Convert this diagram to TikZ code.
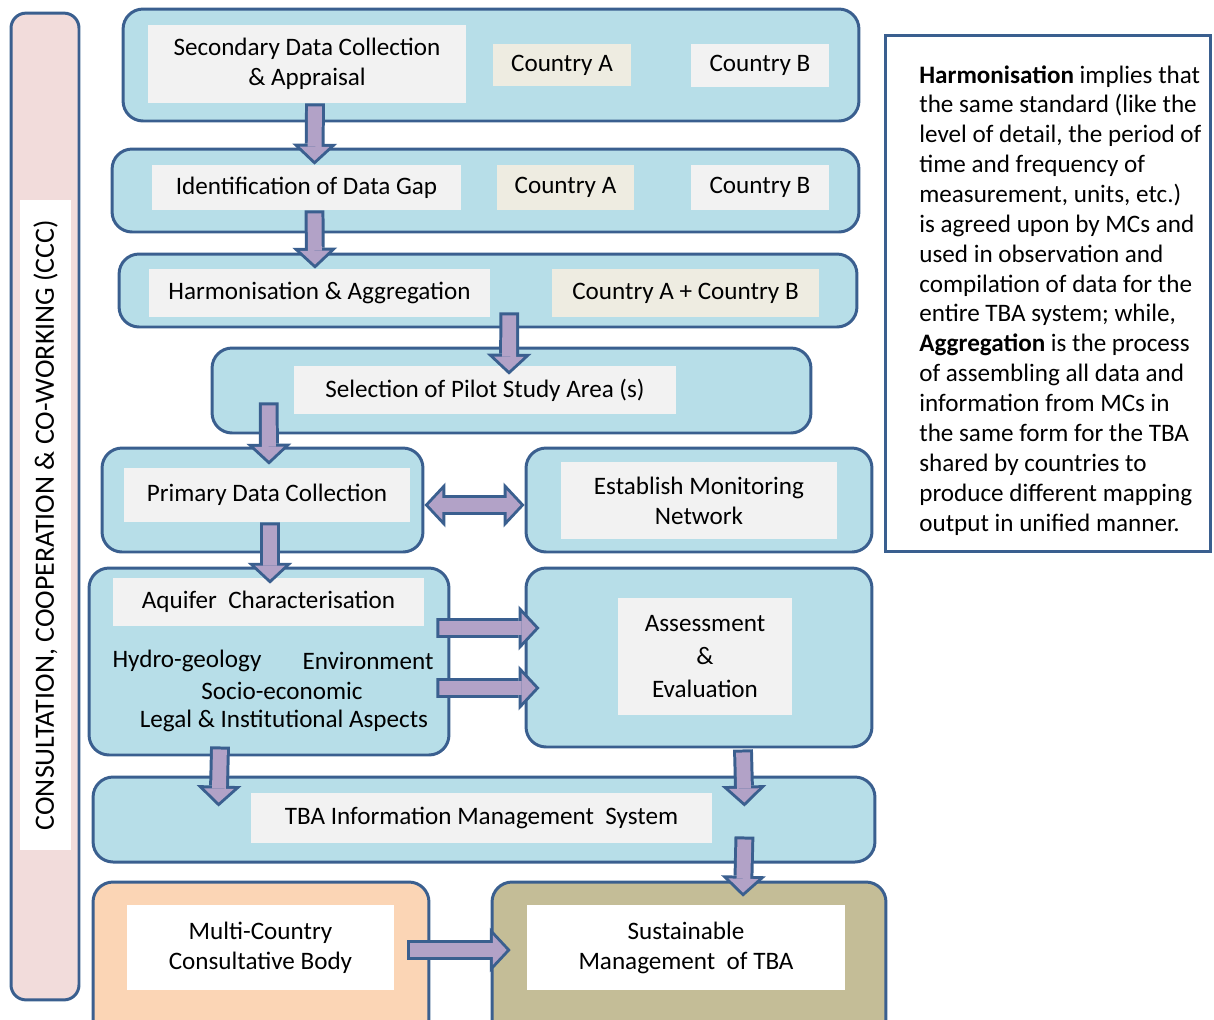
\documentclass[tikz,border=0pt]{standalone}
\usepackage{fontspec}
\setmainfont{Carlito}
\usetikzlibrary{arrows.meta}

\definecolor{edge}{HTML}{3A5F8F}
\definecolor{boxblue}{HTML}{B7DEE8}
\definecolor{textgray}{HTML}{F2F2F2}
\definecolor{tan}{HTML}{EEECE1}
\definecolor{cccpink}{HTML}{F2DCDB}
\definecolor{arrfill}{HTML}{B2A2C7}
\definecolor{peach}{HTML}{FBD5B5}
\definecolor{olive}{HTML}{C4BD97}

\tikzset{
  stage/.style={draw=edge, line width=1.7pt, rounded corners=0.4cm, fill=boxblue, inner sep=0pt},
  txt/.style={fill=textgray, inner sep=0pt, align=center, font=\fontsize{14.3}{17}\selectfont},
  bare/.style={inner sep=0pt, font=\fontsize{14.3}{17}\selectfont},
  blockarr/.style={draw=edge, line width=11.3pt,
    -{Triangle[length=11.9pt, width=25.5pt, line width=0pt]},
    postaction={draw=arrfill, line width=7.9pt, shorten <=1.7pt, shorten >=2.3pt,
      -{Triangle[length=7.9pt, width=16.9pt, line width=0pt]}}},
  dblockarr/.style={draw=edge, line width=11.3pt,
    {Triangle[length=11.9pt, width=25.5pt, line width=0pt]}-{Triangle[length=11.9pt, width=25.5pt, line width=0pt]},
    postaction={draw=arrfill, line width=7.9pt, shorten <=2.3pt, shorten >=2.3pt,
      {Triangle[length=7.9pt, width=16.9pt, line width=0pt]}-{Triangle[length=7.9pt, width=16.9pt, line width=0pt]}}}
}

\begin{document}
\begin{tikzpicture}[x=0.02cm, y=-0.02cm]
  \useasboundingbox (0,0) rectangle (1214,1019);

  \node[stage, fill=cccpink, rounded corners=0.3cm, minimum width=1.36cm, minimum height=19.74cm] (ccc) at (45,506.5) {};
  \node[txt, fill=white, rotate=90, minimum width=13cm, minimum height=1.02cm, font=\fontsize{15.9}{18}\selectfont] (ccctext) at (45.5,525) {CONSULTATION, COOPERATION \& CO-WORKING (CCC)};

  \node[stage, minimum width=14.72cm, minimum height=2.24cm] (s1) at (491,65) {};
  \node[txt, minimum width=6.36cm, minimum height=1.56cm] (sec) at (307,64) {Secondary Data Collection\\ \& Appraisal};
  \node[txt, fill=tan, minimum width=2.76cm, minimum height=0.84cm] (ca1) at (562,65) {Country A};
  \node[txt, minimum width=2.76cm, minimum height=0.86cm] (cb1) at (760,65.5) {Country B};

  \node[stage, minimum width=14.94cm, minimum height=1.66cm] (s2) at (485.5,190.5) {};
  \node[txt, minimum width=6.18cm, minimum height=0.9cm] (gap) at (306.5,187.5) {Identification of Data Gap};
  \node[txt, fill=tan, minimum width=2.74cm, minimum height=0.9cm] (ca2) at (565.5,187.5) {Country A};
  \node[txt, minimum width=2.76cm, minimum height=0.9cm] (cb2) at (760,187.5) {Country B};

  \node[stage, minimum width=14.76cm, minimum height=1.46cm] (s3) at (488,290.5) {};
  \node[txt, minimum width=6.82cm, minimum height=0.96cm] (harm) at (319.5,293) {Harmonisation \& Aggregation};
  \node[txt, fill=tan, minimum width=5.34cm, minimum height=0.96cm] (cab) at (685.5,293) {Country A + Country B};

  \node[stage, minimum width=11.98cm, minimum height=1.7cm] (s4) at (511.5,390.5) {};
  \node[txt, minimum width=7.64cm, minimum height=0.96cm] (pilot) at (485,390) {Selection of Pilot Study Area (s)};

  \node[stage, minimum width=6.42cm, minimum height=2.08cm] (s5) at (262.5,500) {};
  \node[txt, minimum width=5.72cm, minimum height=1.08cm] (prim) at (267,495) {Primary Data Collection};
  \node[stage, minimum width=6.92cm, minimum height=2.08cm] (s5r) at (699,500) {};
  \node[txt, minimum width=5.52cm, minimum height=1.54cm] (mon) at (699,500.5) {Establish Monitoring\\ Network};

  \node[stage, minimum width=7.2cm, minimum height=3.74cm] (s6) at (269,661.5) {};
  \node[txt, minimum width=6.22cm, minimum height=0.96cm] (aqu) at (268.5,602) {Aquifer~ Characterisation};
  \node[bare] (hydro) at (187,661) {Hydro-geology};
  \node[bare] (env) at (368,661) {Environment};
  \node[bare] (socio) at (282,691) {Socio-economic};
  \node[bare] (legal) at (284,721) {Legal \& Institutional Aspects};
  \node[stage, minimum width=6.92cm, minimum height=3.58cm] (s6r) at (699,657.5) {};
  \node[txt, minimum width=3.48cm, minimum height=2.34cm] (ass) at (705,656.5) {Assessment\\[1.7pt] \&\\[1.7pt] Evaluation};

  \node[stage, minimum width=15.64cm, minimum height=1.7cm] (s7) at (484,819.5) {};
  \node[txt, minimum width=9.22cm, minimum height=1cm] (tims) at (481.5,818) {TBA Information Management~ System};

  \node[stage, fill=peach, minimum width=6.72cm, minimum height=3.16cm] (s8) at (261,961) {};
  \node[txt, fill=white, minimum width=5.34cm, minimum height=1.7cm] (mcb) at (260.5,947.5) {Multi-Country\\ Consultative Body};
  \node[stage, fill=olive, minimum width=7.88cm, minimum height=3.16cm] (s8r) at (689,961) {};
  \node[txt, fill=white, minimum width=6.36cm, minimum height=1.7cm] (sus) at (686,947.5) {Sustainable\\ Management~ of TBA};

  \node[draw=edge, line width=1.7pt, fill=white, inner sep=0pt, minimum width=6.52cm, minimum height=10.34cm] (note) at (1048,293.5) {};
  \node[bare, anchor=north west, align=left] (notetext) at (919,65) {\textbf{Harmonisation} implies that\\
    the same standard (like the\\
    level of detail, the period of\\
    time and frequency of\\
    measurement, units, etc.)\\
    is agreed upon by MCs and\\
    used in observation and\\
    compilation of data for the\\
    entire TBA system; while,\\
    \textbf{Aggregation} is the process\\
    of assembling all data and\\
    information from MCs in\\
    the same form for the TBA\\
    shared by countries to\\
    produce different mapping\\
    output in unified manner.};

  \draw[blockarr] ([xshift=0.16cm]sec.south) -- ([xshift=0.16cm]gap.north);
  \draw[blockarr] ([xshift=0.16cm]gap.south) -- ([xshift=-0.09cm]harm.north);
  \draw[blockarr] ([xshift=0.38cm,yshift=0.1cm]harm.south east) -- ([xshift=0.48cm,yshift=-0.18cm]pilot.north);
  \draw[blockarr] ([xshift=-0.5cm,yshift=0.24cm]pilot.south west) -- ([xshift=0.04cm,yshift=0.06cm]prim.north);
  \draw[dblockarr] ([yshift=-0.1cm]s5.east) -- ([yshift=-0.1cm]s5r.west);
  \draw[blockarr] ([xshift=0.06cm]prim.south) -- ([xshift=0.03cm,yshift=-0.12cm]aqu.north);
  \draw[blockarr] ([xshift=0.24cm,yshift=-0.52cm]aqu.east) -- ([xshift=0.3cm,yshift=0.59cm]s6r.west);
  \draw[blockarr] ([xshift=0.24cm,yshift=-1.72cm]aqu.east) -- ([xshift=0.3cm,yshift=-0.61cm]s6r.west);
  \draw[blockarr] ([xshift=-0.98cm,yshift=0.2cm]s6.south) -- ([xshift=2.54cm,yshift=-0.62cm]s7.north west);
  \draw[blockarr] ([xshift=0.88cm,yshift=-0.02cm]s6r.south) -- ([xshift=-2.64cm,yshift=-0.62cm]s7.north east);
  \draw[blockarr] ([xshift=-2.64cm,yshift=0.54cm]s7.south east) -- ([xshift=1.14cm,yshift=0.16cm]sus.north);
  \draw[blockarr] ([xshift=0.26cm,yshift=-0.05cm]mcb.east) -- ([xshift=-0.32cm,yshift=-0.05cm]sus.west);
\end{tikzpicture}
\end{document}
